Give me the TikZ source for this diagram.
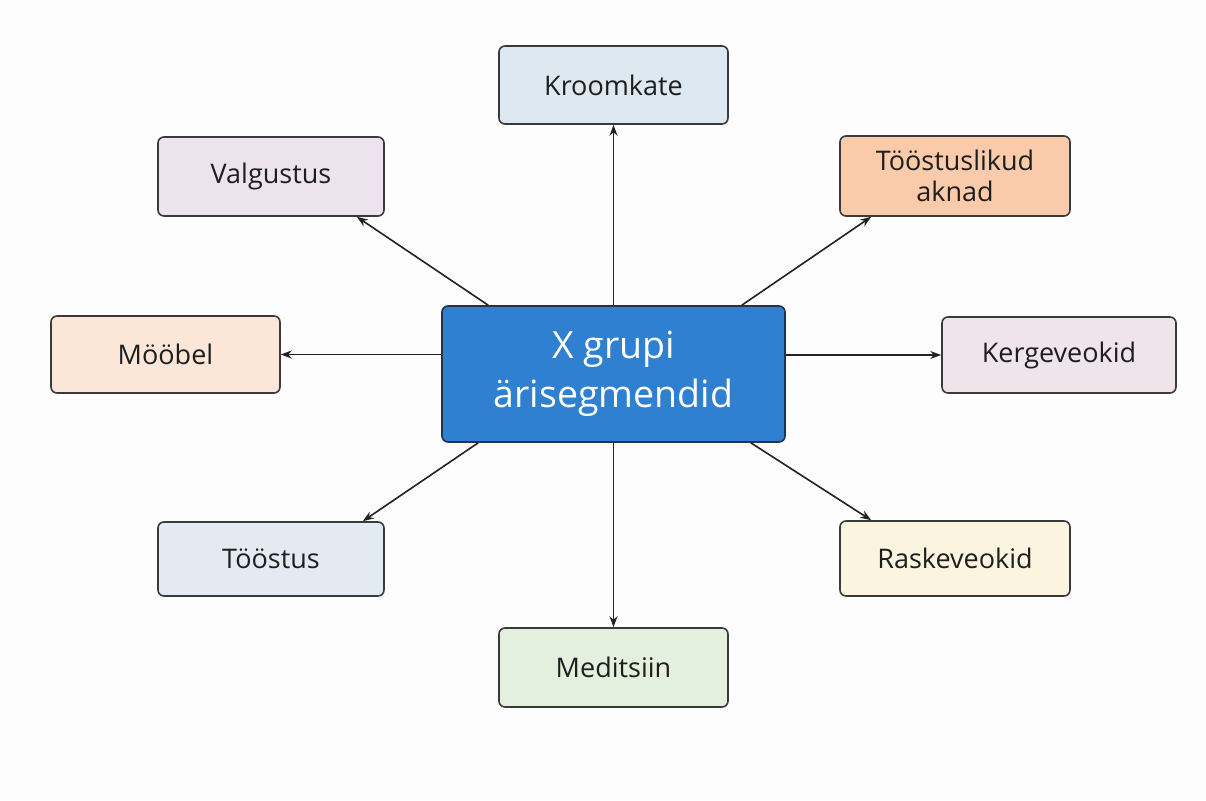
\documentclass[tikz,border=0pt]{standalone}
\usepackage{fontspec}
\setmainfont{Open Sans}
\usetikzlibrary{arrows.meta,calc}
\definecolor{bg}{HTML}{FDFDFD}
\definecolor{boxline}{HTML}{3A3A3A}
\definecolor{textdark}{HTML}{1E1E1E}
\definecolor{arrowc}{HTML}{222222}
\definecolor{cblue}{HTML}{2F80D1}
\definecolor{cblueline}{HTML}{1E3550}
\definecolor{ckroom}{HTML}{DDE8F1}
\definecolor{caknad}{HTML}{F9CBAA}
\definecolor{cvalg}{HTML}{ECE3EF}
\definecolor{cmoob}{HTML}{FBE6D8}
\definecolor{ckerg}{HTML}{EFE4EA}
\definecolor{ctoos}{HTML}{E3EAF1}
\definecolor{crask}{HTML}{FBF5DF}
\definecolor{cmed}{HTML}{E4F0DE}
\begin{document}
\begin{tikzpicture}[x=1pt,y=-1pt,
  seg/.style={draw=boxline, line width=1.6pt, rounded corners=6pt, inner sep=0pt,
    font=\fontsize{27}{31}\selectfont, text=textdark, align=center,
    minimum width=229pt, minimum height=78pt},
  hub/.style={draw=cblueline, fill=cblue, line width=1.6pt, rounded corners=6pt, inner sep=0pt,
    font=\fontsize{37.5}{48}\selectfont, text=white, align=center,
    minimum width=343pt, minimum height=136pt},
  conn/.style={draw=arrowc, line width=1.6pt, -{Stealth[length=11pt,width=8pt]}}]
\fill[bg] (0,0) rectangle (1206,800);
\node[hub] (c) at (613.5,374) {X grupi\\[1pt]ärisegmendid};
\node[seg, fill=ckroom] (kroom) at (613.5,85) {Kroomkate};
\node[seg, fill=cvalg, minimum width=226pt, minimum height=79pt] (valg) at (271,176.5) {Valgustus};
\node[seg, fill=caknad, minimum width=230pt, minimum height=80pt] (akn) at (955,176) {Tööstuslikud\\aknad};
\node[seg, fill=cmoob, minimum height=77pt] (moob) at (165.5,354.5) {Mööbel};
\node[seg, fill=ckerg, minimum width=234pt, minimum height=76pt] (kerg) at (1059,355) {Kergeveokid};
\node[seg, fill=ctoos, minimum width=226pt, minimum height=74pt] (toos) at (271,559) {Tööstus};
\node[seg, fill=crask, minimum width=230pt, minimum height=75pt] (rask) at (955,558.5) {Raskeveokid};
\node[seg, fill=cmed, minimum height=79pt] (med) at (613.5,667.5) {Meditsiin};
\draw[conn] (c.north) -- (kroom.south);
\draw[conn] (c.south) -- (med.north);
\draw[conn] (c.west |- moob.east) -- (moob.east);
\draw[conn] (c.east |- kerg.west) -- (kerg.west);
\draw[conn] ([xshift=47pt]c.north west) -- ([xshift=-28pt]valg.south east);
\draw[conn] ([xshift=-44pt]c.north east) -- ([xshift=32pt]akn.south west);
\draw[conn] ([xshift=37pt]c.south west) -- ([xshift=-22pt]toos.north east);
\draw[conn] ([xshift=-35pt]c.south east) -- ([xshift=32pt]rask.north west);
\end{tikzpicture}
\end{document}
